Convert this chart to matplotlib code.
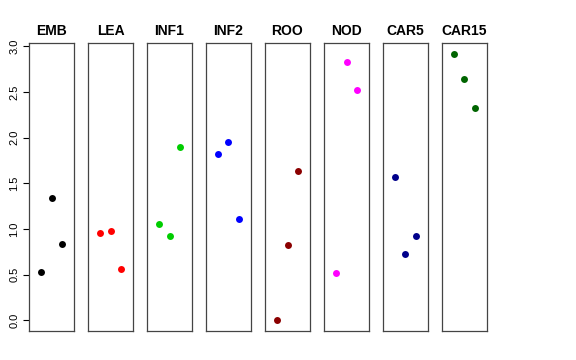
import matplotlib
matplotlib.use("Agg")
import matplotlib.pyplot as plt

plt.rcParams["font.family"] = ["Liberation Sans", "DejaVu Sans"]

groups = ["EMB", "LEA", "INF1", "INF2", "ROO", "NOD", "CAR5", "CAR15"]
colors = ["black", "red", "#00CD00", "blue", "#8B0000", "magenta", "#00008B", "#006400"]
values = [
    [0.53, 1.34, 0.84],
    [0.96, 0.98, 0.56],
    [1.05, 0.92, 1.90],
    [1.82, 1.95, 1.11],
    [0.00, 0.82, 1.63],
    [0.52, 2.83, 2.52],
    [1.57, 0.73, 0.92],
    [2.92, 2.64, 2.33],
]
yticks = [0.0, 0.5, 1.0, 1.5, 2.0, 2.5, 3.0]

fig = plt.figure(figsize=(5.76, 3.6), dpi=100)

left, width, step = 29 / 576, 45 / 576, 59 / 576
bottom, height = 1 - 331 / 360, 288 / 360

for i, (g, c, v) in enumerate(zip(groups, colors, values)):
    ax = fig.add_axes([left + i * step, bottom, width, height])
    ax.scatter([1, 2, 3], v, s=25, color=c, zorder=3, linewidths=0)
    ax.set_xlim(-0.16, 4.16)
    ax.set_ylim(-0.117, 3.037)
    ax.set_xticks([])
    ax.set_title(g, fontsize=10, fontweight="bold", pad=6)
    for s in ax.spines.values():
        s.set_color("#444444")
        s.set_linewidth(0.9)
    if i == 0:
        ax.set_yticks(yticks)
        ax.set_yticklabels([f"{t:.1f}" for t in yticks], rotation=90,
                           va="center", fontsize=8)
        ax.tick_params(axis="y", length=4, pad=3, width=0.8)
    else:
        ax.set_yticks([])

fig.savefig("out.png", dpi=100)
